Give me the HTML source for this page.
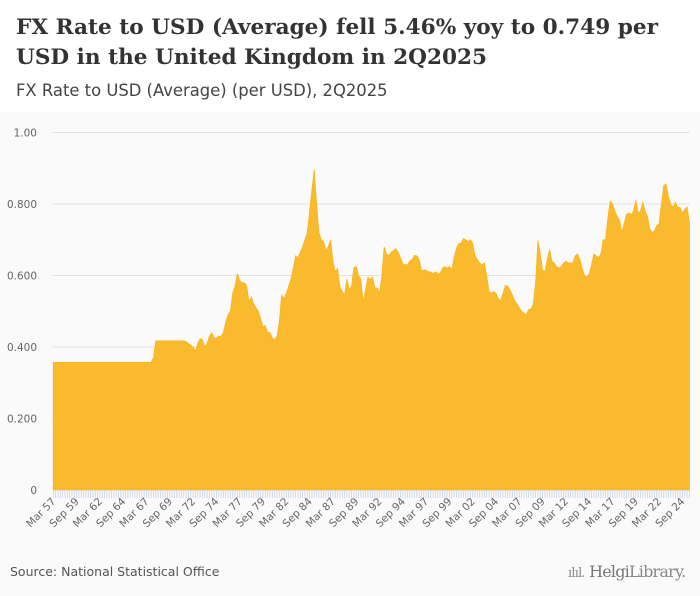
<!DOCTYPE html>
<html><head><meta charset="utf-8">
<style>
html,body{margin:0;padding:0;}
body{width:700px;height:596px;background:#fafafa;font-family:"DejaVu Sans",sans-serif;position:relative;overflow:hidden;}
#header{position:absolute;left:0;top:0;width:700px;height:112px;background:#fff;}
#title{position:absolute;left:16px;top:13px;font-family:"DejaVu Serif",serif;font-weight:bold;font-size:21.6px;line-height:30px;color:#333;margin:0;white-space:nowrap;}
#subtitle{position:absolute;left:16px;top:81px;font-size:16.4px;color:#444;}
#source{position:absolute;left:10px;top:564px;font-size:12.5px;color:#555;}
#logo{position:absolute;left:568px;top:562px;font-family:"DejaVu Serif",serif;font-size:16px;color:#888;letter-spacing:-0.8px;}
svg{position:absolute;left:0;top:0;}
</style></head>
<body>
<div id="header">
<h1 id="title">FX Rate to USD (Average) fell 5.46% yoy to 0.749 per<br>USD in the United Kingdom in 2Q2025</h1>
<div id="subtitle">FX Rate to USD (Average) (per USD), 2Q2025</div>
</div>
<svg id="chart" width="700" height="596"></svg>
<div id="source">Source: National Statistical Office</div>
<div id="logo"><span style="font-size:13px">ılıl.</span> <span style="color:#777">Helgi</span>Library.</div>
<script>
const startYear = 1957;
const values = [
0.357,0.357,0.357,0.357, 0.357,0.357,0.357,0.357, 0.357,0.357,0.357,0.357, 0.357,0.357,0.357,0.357,
0.357,0.357,0.357,0.357, 0.357,0.357,0.357,0.357, 0.357,0.357,0.357,0.357, 0.357,0.357,0.357,0.357,
0.357,0.357,0.357,0.357, 0.357,0.357,0.357,0.357, 0.357,0.357,0.357,0.37,
0.417,0.417,0.417,0.417, 0.417,0.417,0.417,0.417, 0.417,0.417,0.417,0.417, 0.417,0.415,0.41,0.405,
0.40,0.388,0.41,0.423, 0.42,0.40,0.41,0.43, 0.44,0.425,0.425,0.43, 0.43,0.44,0.47,0.49,
0.50,0.55,0.57,0.605, 0.585,0.58,0.58,0.57, 0.525,0.54,0.52,0.51, 0.50,0.48,0.455,0.46,
0.44,0.44,0.425,0.42, 0.43,0.47,0.545,0.535, 0.55,0.57,0.59,0.62, 0.655,0.65,0.665,0.68,
0.70,0.72,0.78,0.84, 0.896,0.80,0.72,0.70, 0.695,0.67,0.68,0.70, 0.64,0.61,0.62,0.57,
0.555,0.545,0.59,0.56, 0.57,0.622,0.625,0.60, 0.59,0.526,0.56,0.595, 0.59,0.595,0.565,0.565,
0.55,0.60,0.68,0.66, 0.655,0.665,0.67,0.675, 0.665,0.65,0.633,0.63, 0.63,0.64,0.645,0.656,
0.655,0.645,0.614,0.615, 0.615,0.61,0.61,0.605, 0.61,0.605,0.605,0.62, 0.625,0.62,0.625,0.615,
0.65,0.675,0.689,0.69, 0.703,0.70,0.695,0.70, 0.69,0.655,0.645,0.635, 0.63,0.635,0.60,0.555,
0.55,0.555,0.55,0.535, 0.53,0.55,0.572,0.57, 0.56,0.545,0.53,0.52, 0.51,0.50,0.495,0.49,
0.505,0.505,0.52,0.58, 0.698,0.66,0.615,0.61, 0.645,0.672,0.64,0.635, 0.625,0.62,0.625,0.635,
0.64,0.635,0.635,0.635, 0.655,0.66,0.645,0.62, 0.60,0.595,0.605,0.63, 0.66,0.655,0.65,0.66,
0.70,0.70,0.76,0.808, 0.80,0.78,0.765,0.755, 0.72,0.745,0.77,0.775, 0.77,0.78,0.81,0.775,
0.78,0.805,0.78,0.765, 0.73,0.72,0.725,0.74, 0.745,0.80,0.852,0.855, 0.82,0.80,0.79,0.805,
0.79,0.79,0.775,0.785, 0.792,0.749
];
const yTicks = [0,0.2,0.4,0.6,0.8,1.0];
const yTickLabels = ["0","0.200","0.400","0.600","0.800","1.00"];
const months = ["Mar","Jun","Sep","Dec"];

const svg = document.getElementById('chart');
const NS = 'http://www.w3.org/2000/svg';
const x0 = 53.3, x1 = 689.4, yBase = 490, yTop = 132.5;
const n = values.length;
function xs(i){ return x0 + i*(x1-x0)/(n-1); }
function ys(v){ return yBase - v*(yBase-yTop); }
function mk(tag, attrs){ const e=document.createElementNS(NS,tag); for(const k in attrs) e.setAttribute(k,attrs[k]); svg.appendChild(e); return e; }

yTicks.forEach((t,k)=>{
  if(t>0){
    const g = mk('line',{x1:52,x2:690,y1:ys(t),y2:ys(t),stroke:'#e3e3e3','stroke-width':1});
    
    
  }
  const lb = mk('text',{x:37,y:ys(t)+4,'text-anchor':'end','font-size':'10.5','fill':'#666','font-family':'DejaVu Sans, sans-serif'});
  lb.textContent = yTickLabels[k];
  
  
});

let d = 'M'+xs(0)+','+yBase;
values.forEach((v,i)=>{ d += ' L'+xs(i).toFixed(2)+','+ys(v).toFixed(2); });
d += ' L'+xs(n-1)+','+yBase+' Z';
const area = mk('path',{d:d,fill:'#f9bb2d',stroke:'#f7b520','stroke-width':0.8});



values.forEach((v,i)=>{
  const t = mk('line',{x1:xs(i),x2:xs(i),y1:490,y2:498,stroke:'#c5d3ea','stroke-width':0.8});
  
  
  if(i%10===0){
    const yr = startYear + Math.floor(i/4);
    const lbl = months[i%4]+' '+String(yr%100).padStart(2,'0');
    const x = xs(i)+3, y = 502;
    const tx = mk('text',{x:x,y:y,'text-anchor':'end','font-size':'10.5','fill':'#666','font-family':'DejaVu Sans, sans-serif',transform:'rotate(-45 '+x+' '+y+')'});
    tx.textContent = lbl;
    
    
  }
});
</script>
</body></html>
